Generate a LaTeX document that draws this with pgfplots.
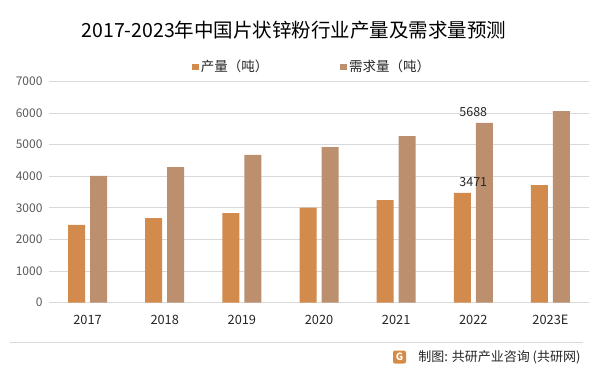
\documentclass[border=0pt]{standalone}
\usepackage{fontspec}
\setmainfont{Noto Sans CJK SC}
\usepackage{pgfplots}
\pgfplotsset{compat=1.18}
\definecolor{barA}{RGB}{211,139,77}
\definecolor{barB}{RGB}{188,143,110}
\definecolor{gridc}{RGB}{217,217,217}
\definecolor{ticky}{RGB}{89,89,89}
\definecolor{txt}{RGB}{38,38,38}
\begin{document}
\begin{tikzpicture}[x=1pt,y=1pt]
\path[use as bounding box] (0,0) rectangle (602,373);
\node[font=\fontsize{19.5pt}{22pt}\selectfont, text=black] at (294,342.5) {2017-2023年中国片状锌粉行业产量及需求量预测};
\begin{axis}[
  at={(49pt,70.3pt)}, anchor=south west,
  width=540pt, height=221.4pt, scale only axis,
  xmin=-0.5, xmax=6.5, ymin=0, ymax=7000,
  ytick={0,1000,...,7000},
  xtick={0,...,6},
  xticklabels={2017,2018,2019,2020,2021,2022,2023E},
  /pgf/number format/assume math mode=true,
  /pgf/number format/1000 sep={},
  axis line style={draw=none},
  major tick length=0pt,
  ymajorgrids, grid style={gridc, line width=0.8pt},
  yticklabel style={font=\fontsize{12pt}{13pt}\selectfont, text=ticky, xshift=-3pt},
  xticklabel style={font=\fontsize{12.8pt}{14pt}\selectfont, text=txt, yshift=-9pt},
  legend columns=2,
  legend style={draw=none, fill=none, at={(0.265,1.065)}, anchor=west,
    font=\fontsize{13.5pt}{15pt}\selectfont, text=txt,
    /tikz/every even column/.append style={column sep=70pt},
    inner sep=0pt, nodes={inner sep=2pt}},
  legend cell align=left,
  legend image code/.code={\fill[#1] (0pt,-3.3pt) rectangle (6.6pt,3.3pt);},
]
\addplot[ybar, bar width=17pt, bar shift=-11pt, fill=barA, draw=none] coordinates {
(0,2457) (1,2678) (2,2836) (3,3004) (4,3247) (5,3471) (6,3721)};
\addlegendentry{产量（吨）}
\addplot[ybar, bar width=17pt, bar shift=11pt, fill=barB, draw=none] coordinates {
(0,4006) (1,4290) (2,4670) (3,4922) (4,5270) (5,5688) (6,6061)};
\addlegendentry{需求量（吨）}
\addplot[ybar, bar width=17pt, bar shift=-11pt, draw=none, fill=none, forget plot,
  nodes near coords, nodes near coords style={font=\fontsize{12.5pt}{13pt}\selectfont, text=txt, yshift=3pt},
  point meta=y] coordinates {(5,3471)};
\addplot[ybar, bar width=17pt, bar shift=11pt, draw=none, fill=none, forget plot,
  nodes near coords, nodes near coords style={font=\fontsize{12.5pt}{13pt}\selectfont, text=txt, yshift=3pt},
  point meta=y] coordinates {(5,5688)};
\end{axis}
\draw[gridc, line width=0.8pt] (10,31) -- (583,31);
\fill[barA!90!orange, rounded corners=2pt] (393,9.5) rectangle (406,22.5);
\node[text=white, font=\bfseries\fontsize{10pt}{10pt}\selectfont] at (399.5,16) {G};
\node[anchor=east, text=txt, font=\fontsize{13pt}{15pt}\selectfont] at (584,16) {制图: 共研产业咨询 (共研网)};
\end{tikzpicture}
\end{document}
